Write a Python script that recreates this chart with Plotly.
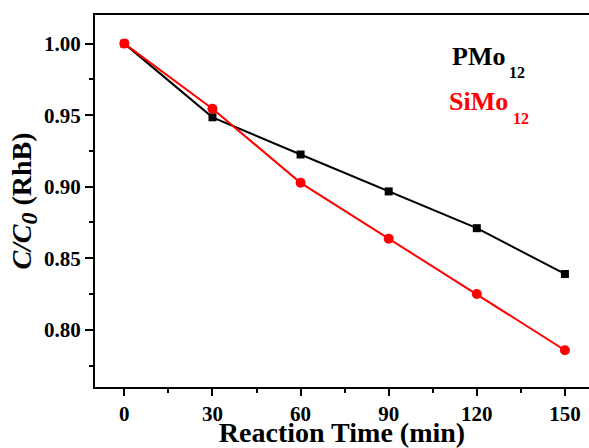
import plotly.graph_objects as go

# Reaction time (min) and normalized RhB concentration
time_min = [0, 30, 60, 90, 120, 150]
pmo12 = [1.000, 0.9485, 0.9225, 0.8967, 0.8710, 0.8390]
simo12 = [1.000, 0.9545, 0.9027, 0.8637, 0.8250, 0.7857]

x_ticks = [0, 30, 60, 90, 120, 150]
y_ticks = [0.80, 0.85, 0.90, 0.95, 1.00]

FONT = "Liberation Serif"
RED = "#ff0000"

# plot area in pixels (for placing the series labels)
L, T, W, H = 95, 15, 494, 372


def px_x(v):
    return (v - L) / W


def px_y(v):
    return 1 - (v - T) / H


fig = go.Figure()
fig.add_trace(go.Scatter(
    x=time_min, y=pmo12, mode="lines+markers", name="PMo12",
    line=dict(color="black", width=2),
    marker=dict(symbol="square", size=8, color="black"),
))
fig.add_trace(go.Scatter(
    x=time_min, y=simo12, mode="lines+markers", name="SiMo12",
    line=dict(color=RED, width=2),
    marker=dict(symbol="circle", size=10, color=RED),
))

# series labels with dropped subscripts
labels = [
    ("PMo", "black", 450, 40, 507, 62),
    ("SiMo", RED, 447, 85, 511, 108),
]
for main, color, mx, my, sx, sy in labels:
    fig.add_annotation(
        text="<b>%s</b>" % main, xref="paper", yref="paper",
        x=px_x(mx), y=px_y(my), xanchor="left", yanchor="top",
        showarrow=False, font=dict(family=FONT, size=26, color=color),
    )
    fig.add_annotation(
        text="<b>12</b>", xref="paper", yref="paper",
        x=px_x(sx), y=px_y(sy), xanchor="left", yanchor="top",
        showarrow=False, font=dict(family=FONT, size=16, color=color),
    )

y_title = ('<b><i>C/C<sub><span style="font-size:24px">0</span></sub></i>'
           ' (RhB)</b>')

fig.update_layout(
    width=589, height=448,
    margin=dict(l=L, r=0, t=T, b=448 - T - H),
    paper_bgcolor="white", plot_bgcolor="white",
    showlegend=False,
    font=dict(family=FONT, color="black"),
    xaxis=dict(
        range=[-10, 158.2], tickvals=x_ticks,
        ticktext=["<b>%d</b>" % v for v in x_ticks],
        ticks="outside", ticklen=7, tickwidth=1.5, tickcolor="black",
        showline=True, linecolor="black", linewidth=2, mirror=True,
        showgrid=False, zeroline=False,
        tickfont=dict(family=FONT, size=21, color="black"),
        minor=dict(tickvals=[15, 45, 75, 105, 135], ticks="outside", ticklen=4,
                   tickwidth=1.5, tickcolor="black"),
        title=dict(text="<b>Reaction Time (min)</b>", standoff=0,
                   font=dict(family=FONT, size=28, color="black")),
    ),
    yaxis=dict(
        range=[0.76, 1.02], tickvals=y_ticks,
        ticktext=["<b>%.2f</b>" % v for v in y_ticks],
        ticks="outside", ticklen=8, tickwidth=1.5, tickcolor="black",
        showline=True, linecolor="black", linewidth=2, mirror=False,
        showgrid=False, zeroline=False,
        tickfont=dict(family=FONT, size=21, color="black"),
        minor=dict(tickvals=[0.775, 0.825, 0.875, 0.925, 0.975], ticks="outside",
                   ticklen=4, tickwidth=1.5, tickcolor="black"),
        title=dict(text=y_title, standoff=4,
                   font=dict(family=FONT, size=28, color="black")),
    ),
)

fig.write_html("out.html")
